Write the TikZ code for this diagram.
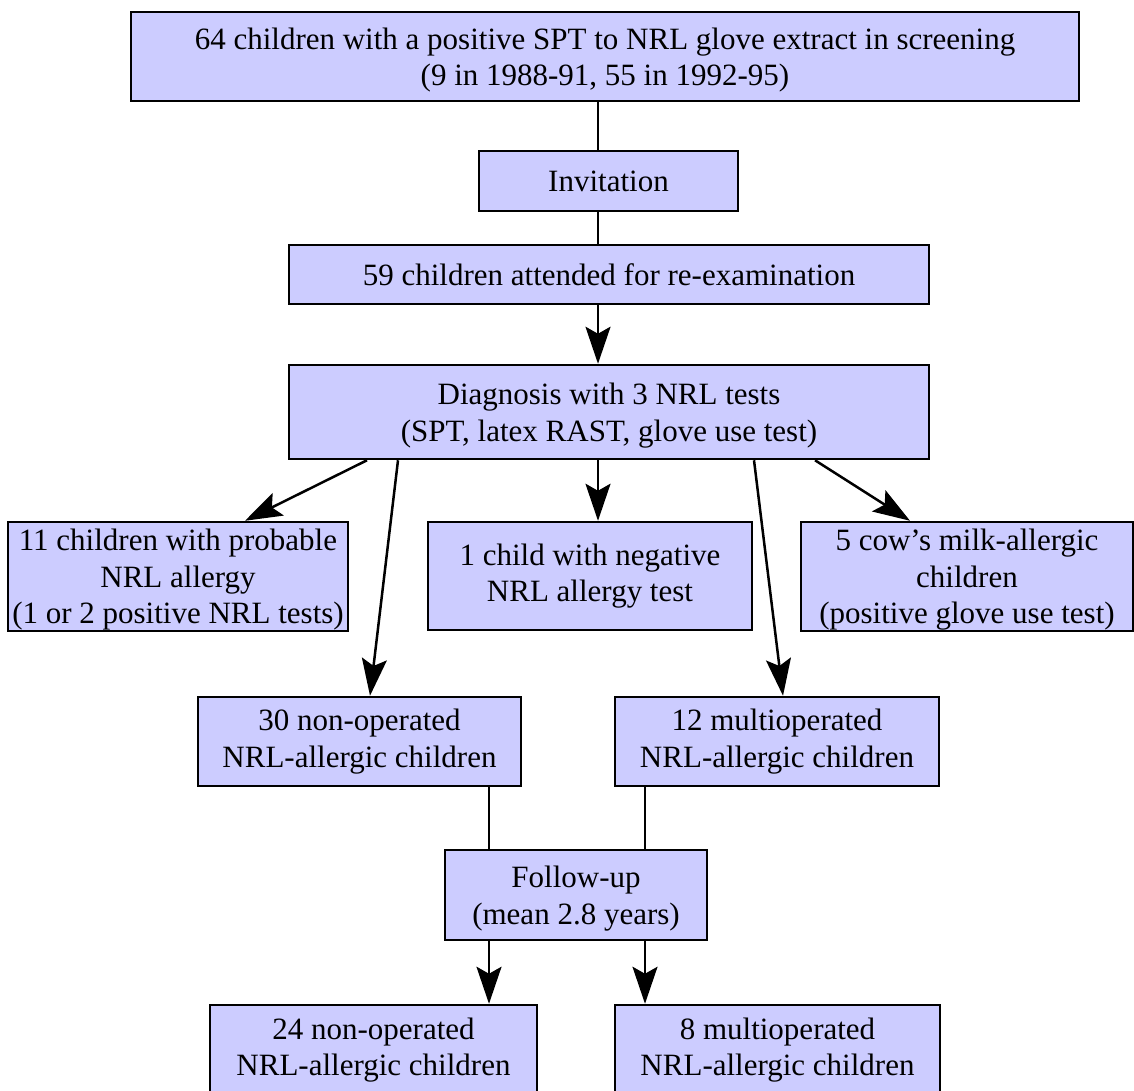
\documentclass[tikz,border=0pt]{standalone}
\usepackage{fontspec}
\setmainfont{Liberation Serif}
\usepackage{tikz}
\usetikzlibrary{arrows.meta}
\definecolor{boxfill}{RGB}{204,204,255}
% taller first line, so that text over a line with brackets sits lower
\newcommand{\topstrut}{\rule{0pt}{28.5pt}}
\tikzstyle{stage}=[rectangle,
	line width=2.5pt,
	draw=black,
	fill=boxfill,
	inner sep=0pt,
	align=center,
	font=\fontsize{31}{36.5}\selectfont]
\tikzstyle{link}=[line width=2.5pt]
\tikzstyle{flow}=[line width=2.5pt,
	-{Stealth[length=37pt,width=25pt,inset=7pt]}]

\begin{document}
\begin{tikzpicture}[x=1pt,y=-1pt]
	\useasboundingbox (0,0) rectangle (1134,1090);
	\node (screen) [stage, minimum width=948pt, minimum height=89pt] at (605,56.5)
		{\topstrut 64 children with a positive SPT to NRL glove extract in screening\\(9 in 1988-91, 55 in 1992-95)};
	\node (invite) [stage, minimum width=259pt, minimum height=60pt] at (608.5,181) {Invitation};
	\draw[link] ([xshift=-7pt]screen.south) -- ([xshift=-7pt]screen.south |- invite.north);
	\node (attended) [stage, minimum width=640pt, minimum height=59pt] at (609,274.5)
		{59 children attended for re-examination};
	\draw[link] ([xshift=-10.5pt]invite.south) -- ([xshift=-10.5pt]invite.south |- attended.north);
	\node (diag) [stage, minimum width=640pt, minimum height=94pt] at (609,412)
		{\topstrut Diagnosis with 3 NRL tests\\(SPT, latex RAST, glove use test)};
	\draw[flow] ([xshift=-11pt]attended.south) -- ([xshift=-11pt]attended.south |- diag.north);

	\node (probable) [stage, minimum width=340pt, minimum height=109pt] at (178,576.5)
		{\topstrut 11 children with probable\\NRL allergy\\(1 or 2 positive NRL tests)};
	\draw[flow] ([xshift=-242pt]diag.south) -- ([xshift=67pt]probable.north);
	\node (negative) [stage, minimum width=324pt, minimum height=108pt] at (590,576)
		{1 child with negative\\NRL allergy test};
	\draw[flow] ([xshift=-11pt]diag.south) -- ([xshift=8pt]negative.north);
	\node (cowmilk) [stage, minimum width=332pt, minimum height=109pt] at (967,576.5)
		{\topstrut 5 cow's milk-allergic\\children\\(positive glove use test)};
	\draw[flow] ([xshift=206pt]diag.south) -- ([xshift=-57pt]cowmilk.north);

	\node (nonop) [stage, minimum width=323pt, minimum height=89pt] at (359.5,741.5)
		{30 non-operated\\NRL-allergic children};
	\draw[flow] ([xshift=-211pt]diag.south) -- ([xshift=10.5pt]nonop.north);
	\node (multiop) [stage, minimum width=324pt, minimum height=89pt] at (777,741.5)
		{12 multioperated\\NRL-allergic children};
	\draw[flow] ([xshift=145pt]diag.south) -- ([xshift=6pt]multiop.north);

	\node (followup) [stage, minimum width=262pt, minimum height=90pt] at (576,895)
		{\topstrut Follow-up\\(mean 2.8 years)};
	\draw[link] ([xshift=129.5pt]nonop.south) -- ([xshift=129.5pt]nonop.south |- followup.north);
	\draw[link] ([xshift=-132pt]multiop.south) -- ([xshift=-132pt]multiop.south |- followup.north);

	\node (nonopend) [stage, minimum width=327pt, minimum height=90pt] at (373.5,1050)
		{24 non-operated\\NRL-allergic children};
	\draw[flow] ([xshift=-87pt]followup.south) -- ([xshift=-87pt]followup.south |- nonopend.north);
	\node (multiopend) [stage, minimum width=325pt, minimum height=90pt] at (777.5,1050)
		{8 multioperated\\NRL-allergic children};
	\draw[flow] ([xshift=69pt]followup.south) -- ([xshift=69pt]followup.south |- multiopend.north);
\end{tikzpicture}
\end{document}
